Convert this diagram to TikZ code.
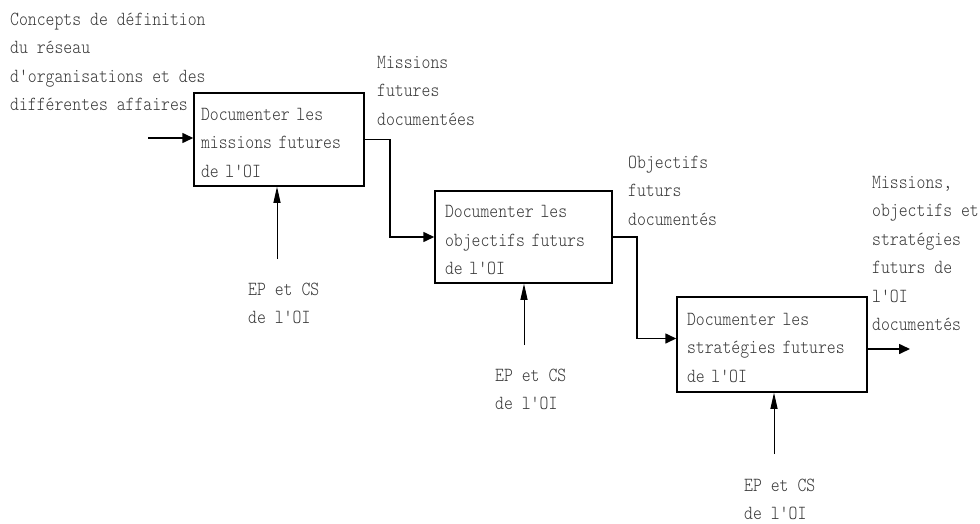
\documentclass[tikz,border=0pt]{standalone}
\usepackage{fontspec}
\setmonofont{lmmonolt10-regular.otf}[FakeStretch=0.846]
\usetikzlibrary{arrows.meta}
\definecolor{txtgray}{RGB}{55,55,55}
\begin{document}
\begin{tikzpicture}[x=1pt,y=-1pt,
  txtfont/.style={font=\ttfamily\fontsize{20}{28.5}\selectfont, text=txtgray},
  lbl/.style={txtfont, align=left, inner sep=0pt, anchor=north west},
  box/.style={draw=black, line width=1.5pt, rectangle, txtfont, align=left, inner ysep=0pt},
  conn/.style={line width=1.6pt, -{Triangle[length=11pt,width=10pt]}},
  upconn/.style={line width=1pt, -{Triangle[length=16pt,width=7pt]}}]
\useasboundingbox (0,0) rectangle (980,524);

% process boxes
\node[box, minimum width=170pt, minimum height=93pt, text width=156pt, inner xsep=7pt] (b1) at (279,139.5)
  {\rule{0pt}{19pt}Documenter les\\missions futures\\de l'OI};
\node[box, minimum width=177pt, minimum height=92pt, text width=157pt, inner xsep=10pt] (b2) at (523.5,237)
  {\rule{0pt}{19pt}Documenter les\\objectifs futurs\\de l'OI};
\node[box, minimum width=190pt, minimum height=95pt, text width=170pt, inner xsep=10pt] (b3) at (772,344.5)
  {\rule{0pt}{19pt}Documenter les\\stratégies futures\\de l'OI};

% labels
\node[lbl] (t0) at (10,9) {\rule{0pt}{16pt}Concepts de définition\\du réseau\\d'organisations et des\\différentes affaires};
\node[lbl] (l1) at (377,52) {\rule{0pt}{16pt}Missions\\futures\\documentées};
\node[lbl] (l2) at (628,152) {\rule{0pt}{16pt}Objectifs\\futurs\\documentés};
\node[lbl] (l3) at (872,172) {\rule{0pt}{16pt}Missions,\\objectifs et\\stratégies\\futurs de\\l'OI\\documentés};
\node[lbl] (e1) at (248,279) {\rule{0pt}{16pt}EP et CS\\de l'OI};
\node[lbl] (e2) at (495,365) {\rule{0pt}{16pt}EP et CS\\de l'OI};
\node[lbl] (e3) at (744,475) {\rule{0pt}{16pt}EP et CS\\de l'OI};

% connectors
\coordinate (in1) at (148,138);
\draw[conn] (in1) -- (in1 -| b1.west);
\draw[conn] (b1.east) -- ++(25,0) |- (b2.west);
\draw[conn] (b2.east) -- ++(24,0) |- ([yshift=6pt]b3.west);
\coordinate (out3) at (910,349);
\draw[conn] (b3.east |- out3) -- (out3);

\coordinate (c1) at (277,259);
\draw[upconn] (c1) -- (c1 |- b1.south);
\coordinate (c2) at (524,345);
\draw[upconn] (c2) -- (c2 |- b2.south);
\coordinate (c3) at (774,454);
\draw[upconn] (c3) -- (c3 |- b3.south);
\end{tikzpicture}
\end{document}
